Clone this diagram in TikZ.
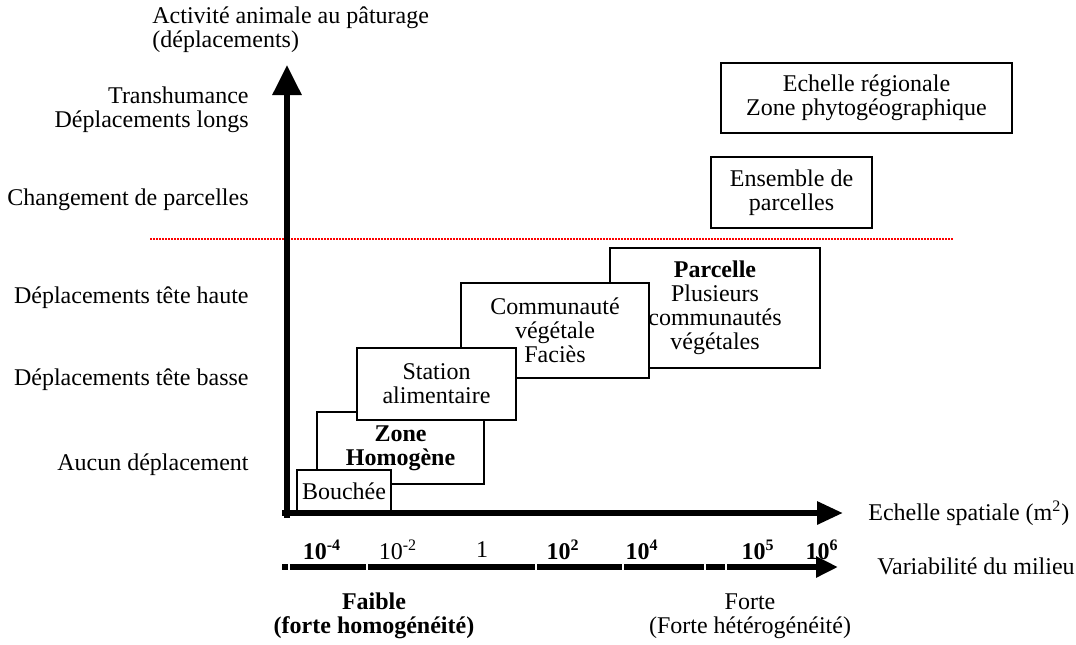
\documentclass[tikz,border=0pt]{standalone}
\usepackage{fontspec}
\setmainfont{Liberation Serif}
\usetikzlibrary{arrows.meta}
\begin{document}
\begin{tikzpicture}[x=0.5pt,y=-0.5pt,
  every node/.style={font=\fontsize{12}{12}\selectfont, inner sep=0pt},
  box/.style={draw=black, line width=1pt, fill=white, align=center},
  lbl/.style={anchor=east},
  axis/.style={line width=3pt, line cap=rect},
  tick/.style={anchor=center},
  gap/.style={white, line width=0.6pt},
  sep/.style={red, line width=0.8pt, dash pattern=on 0.8pt off 0.7pt}]
\useasboundingbox (0,0) rectangle (1076,644);

% separation line
\coordinate (sepL) at (150,239);
\coordinate (sepR) at (953,239);
\draw[sep] (sepL) -- (sepR);

% boxes (back to front)
\node[box, minimum width=105pt, minimum height=60pt] (parcelle) at (715,308)
  {\textbf{Parcelle}\\Plusieurs\\communautés\\végétales};
\node[box, minimum width=94pt, minimum height=47.5pt] (communaute) at (555,330.5)
  {Communauté\\végétale\\Faciès};
\node[box, minimum width=83.5pt, minimum height=36pt] (zone) at (400.5,448)
  {\textbf{Zone}\\\textbf{Homogène}};
\node[box, minimum width=79.5pt, minimum height=36pt] (station) at (436.5,384)
  {Station\\alimentaire};
\node[box, minimum width=47pt, minimum height=21.5pt] (bouchee) at (344,491.5)
  {Bouchée};
\node[box, minimum width=145.5pt, minimum height=35pt] (regional) at (866.5,98)
  {Echelle régionale\\Zone phytogéographique};
\node[box, minimum width=80.5pt, minimum height=35.5pt] (ensemble) at (791.5,192.5)
  {Ensemble de\\parcelles};

% axes
\coordinate (O) at (287,513);
\coordinate (Ov) at (287,515);
\coordinate (Oh) at (285,513);
\coordinate (ytip) at (287,65);
\coordinate (xtip) at (843,513);
\coordinate (vL) at (285,567);
\coordinate (vR) at (838,567);
\draw[axis, -{Triangle[length=15pt,width=14pt]}] (Ov) -- (ytip);
\draw[axis, -{Triangle[length=13pt,width=11pt]}] (Oh) -- (xtip);
\draw[axis, -{Triangle[length=11pt,width=10pt]}] (vL) -- (vR);
\foreach \gx in {289,367,536,623,705,726}
  \draw[gap] (\gx,562) -- (\gx,572);

% axis titles
\node[anchor=west, align=left] (ytitle) at (152,30)
  {Activité animale au pâturage\\(déplacements)};
\node[anchor=west] (xtitle) at (868,513) {Echelle spatiale (m\textsuperscript{2})};
\node[anchor=west] (vtitle) at (877,566) {Variabilité du milieu};

% left labels
\node[lbl, align=right] (transh) at (249,110) {Transhumance\\Déplacements longs};
\node[lbl] (chgt) at (249,200) {Changement de parcelles};
\node[lbl] (haute) at (249,298) {Déplacements tête haute};
\node[lbl] (basse) at (249,380) {Déplacements tête basse};
\node[lbl] (aucun) at (249,465) {Aucun déplacement};

% ticks
\node[tick] (t1) at (322,550) {\textbf{10\textsuperscript{-4}}};
\node[tick] (t2) at (398,550) {10\textsuperscript{-2}};
\node[tick] (t3) at (482,550) {1};
\node[tick] (t4) at (563,550) {\textbf{10\textsuperscript{2}}};
\node[tick] (t5) at (642,550) {\textbf{10\textsuperscript{4}}};
\node[tick] (t6) at (758,550) {\textbf{10\textsuperscript{5}}};
\node[tick] (t7) at (822,550) {\textbf{10\textsuperscript{6}}};

% bottom labels
\node[align=center] (faible) at (374,616) {\textbf{Faible}\\\textbf{(forte homogénéité)}};
\node[align=center] (forte) at (750,616) {Forte\\(Forte hétérogénéité)};
\end{tikzpicture}
\end{document}
